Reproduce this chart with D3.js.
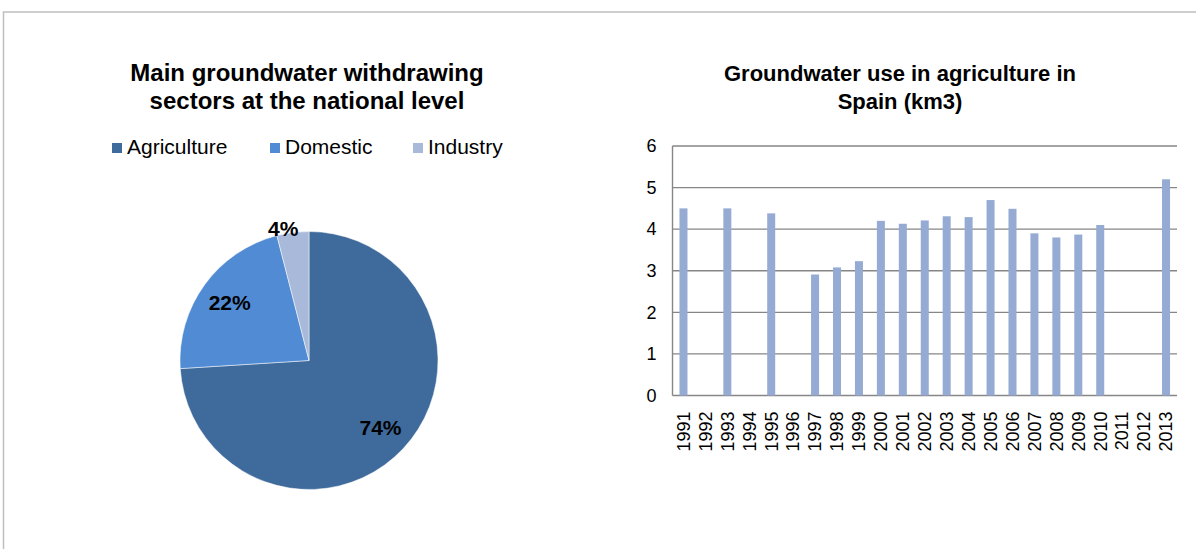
<!DOCTYPE html>
<html>
<head>
<meta charset="utf-8">
<script src="https://cdn.jsdelivr.net/npm/d3@7"></script>
<style>
  body { margin: 0; background: #fff; }
  text { font-family: "Liberation Sans", Arial, sans-serif; fill: #000; }
</style>
</head>
<body>
<div id="chart"></div>
<script>
// pie data
var sectors = ["Agriculture", "Domestic", "Industry"];
var sectorShare = [74, 22, 4];
var sectorColors = ["#3f6a9c", "#508bd4", "#a9b9d9"];

// bar data (km3), null = no data
var years = ["1991", "1992", "1993", "1994", "1995", "1996", "1997", "1998", "1999", "2000", "2001", "2002",
    "2003", "2004", "2005", "2006", "2007", "2008", "2009", "2010", "2011", "2012", "2013"];
var useKm3 = [4.5, null, 4.5, null, 4.38, null, 2.91, 3.08, 3.23, 4.2, 4.13, 4.21,
    4.31, 4.29, 4.7, 4.49, 3.9, 3.8, 3.87, 4.1, null, null, 5.2];
var yTicks = [0, 1, 2, 3, 4, 5, 6];

var width = 1196, height = 549;

var svg = d3.select("#chart")
    .append("svg")
    .attr("width", width)
    .attr("height", height);

// outer frame (runs off the right and bottom edge)
svg.append("rect")
    .attr("x", 3.5)
    .attr("y", 12)
    .attr("width", 1300)
    .attr("height", 600)
    .attr("fill", "none")
    .attr("stroke", "#bfbfbf")
    .attr("stroke-width", 1.5);

// ---------- left: pie ----------
var pieTitle = svg.append("text")
    .attr("text-anchor", "middle")
    .style("font-size", "24px")
    .style("font-weight", "bold");
pieTitle.append("tspan").attr("x", 307).attr("y", 81).text("Main groundwater withdrawing");
pieTitle.append("tspan").attr("x", 307).attr("y", 109).text("sectors at the national level");

// legend
var legendX = [112, 270, 413];
var legend = svg.append("g")
    .selectAll("g")
    .data(sectors)
    .enter()
    .append("g")
    .attr("transform", function (d, i) { return "translate(" + legendX[i] + ",143)"; });
legend.append("rect")
    .attr("width", 10)
    .attr("height", 10)
    .attr("fill", function (d, i) { return sectorColors[i]; });
legend.append("text")
    .attr("x", 15)
    .attr("y", 10.5)
    .style("font-size", "21px")
    .text(function (d) { return d; });

var radius = 129;
var pieG = svg.append("g")
    .attr("transform", "translate(309,360.5)");

var pie = d3.pie().sort(null).value(function (d) { return d; });
var arcs = pie(sectorShare);
var arc = d3.arc().innerRadius(0).outerRadius(radius);

pieG.selectAll("path")
    .data(arcs)
    .enter()
    .append("path")
    .attr("d", arc)
    .attr("fill", function (d, i) { return sectorColors[i]; })
    .attr("stroke", "#fff")
    .attr("stroke-width", 0.5);

// labels: inside for large slices, just outside for tiny ones (best fit)
function isSmall(d) { return d.data / 100 < 0.1; }
pieG.selectAll("text")
    .data(arcs)
    .enter()
    .append("text")
    .attr("transform", function (d) {
        var r = isSmall(d) ? radius + 4 : radius * 0.76;
        var a = (d.startAngle + d.endAngle) / 2;
        return "translate(" + (Math.sin(a) * r) + "," + (-Math.cos(a) * r) + ")";
    })
    .attr("text-anchor", function (d) { return isSmall(d) ? "end" : "middle"; })
    .attr("dx", function (d) { return isSmall(d) ? 6 : 0; })
    .attr("dy", "0.35em")
    .style("font-size", "21px")
    .style("font-weight", "bold")
    .text(function (d) { return d.data + "%"; });

// ---------- right: bars ----------
var barTitle = svg.append("text")
    .attr("text-anchor", "middle")
    .style("font-size", "22px")
    .style("font-weight", "bold");
barTitle.append("tspan").attr("x", 900).attr("y", 81).text("Groundwater use in agriculture in");
barTitle.append("tspan").attr("x", 900).attr("y", 109).text("Spain (km3)");

var plot = {left: 672.5, right: 1177, top: 146, bottom: 395.5};

var x = d3.scaleBand()
    .domain(years)
    .range([plot.left, plot.right])
    .paddingInner(0.635)
    .paddingOuter(0.3175);

var y = d3.scaleLinear()
    .domain([0, 6])
    .range([plot.bottom, plot.top]);

// gridlines
svg.append("g")
    .selectAll("line")
    .data(yTicks)
    .enter()
    .append("line")
    .attr("x1", plot.left)
    .attr("x2", plot.right)
    .attr("y1", function (d) { return y(d); })
    .attr("y2", function (d) { return y(d); })
    .attr("stroke", "#868686")
    .attr("stroke-width", 1.4);

// left axis line
svg.append("line")
    .attr("x1", plot.left)
    .attr("x2", plot.left)
    .attr("y1", plot.top)
    .attr("y2", plot.bottom)
    .attr("stroke", "#868686")
    .attr("stroke-width", 1.4);

// y tick labels
svg.append("g")
    .selectAll("text")
    .data(yTicks)
    .enter()
    .append("text")
    .attr("x", plot.left - 16)
    .attr("y", function (d) { return y(d); })
    .attr("dy", "0.35em")
    .attr("text-anchor", "end")
    .style("font-size", "18px")
    .text(function (d) { return d; });

// bars
var barData = years.map(function (yr, i) { return {year: yr, value: useKm3[i]}; })
    .filter(function (d) { return d.value !== null; });

svg.append("g")
    .selectAll("rect")
    .data(barData)
    .enter()
    .append("rect")
    .attr("x", function (d) { return x(d.year); })
    .attr("y", function (d) { return y(d.value); })
    .attr("width", x.bandwidth())
    .attr("height", function (d) { return y(0) - y(d.value); })
    .attr("fill", "#95abd3");

// x labels, rotated
svg.append("g")
    .selectAll("text")
    .data(years)
    .enter()
    .append("text")
    .attr("transform", function (d) {
        return "translate(" + (x(d) + x.bandwidth() / 2) + "," + (plot.bottom + 16) + ") rotate(-90)";
    })
    .attr("dy", "0.35em")
    .attr("text-anchor", "end")
    .style("font-size", "18px")
    .text(function (d) { return d; });
</script>
</body>
</html>
